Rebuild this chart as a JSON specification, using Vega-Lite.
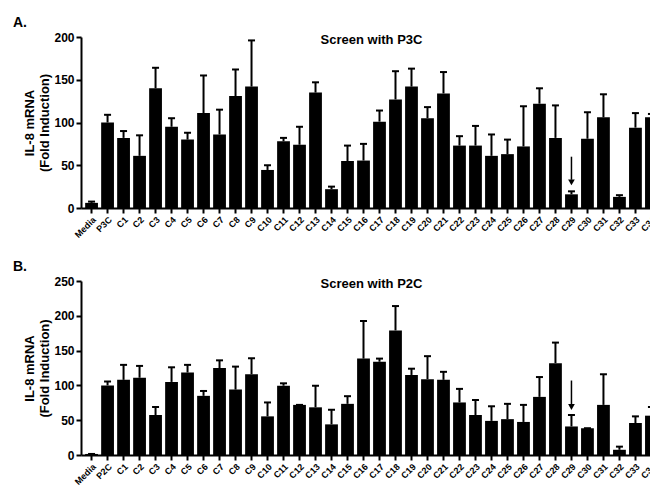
{
  "$schema": "https://vega.github.io/schema/vega-lite/v6.json",
  "padding": {"left": 12, "top": 16, "right": 0, "bottom": 0},
  "background": "white",
  "spacing": 20,
  "config": {
    "font": "Liberation Sans",
    "view": {"stroke": null},
    "axis": {"domainColor": "black", "domainWidth": 2, "tickColor": "black", "tickWidth": 2, "tickSize": 5, "labelColor": "black", "labelFontWeight": "bold", "titleColor": "black", "titleFontWeight": "bold", "grid": false, "labelOverlap": false},
    "axisY": {"titleFontSize": 13, "titleLineHeight": 15, "titlePadding": 2, "labelFontSize": 12, "labelPadding": 2},
    "axisX": {"labelAngle": -45, "labelFontSize": 9, "labelPadding": 2},
    "title": {"color": "black", "fontWeight": "bold"}
  },
  "datasets": {
    "p3c": [
      {"cat": "Media", "value": 6, "err": 7.5},
      {"cat": "P3C", "value": 100, "err": 109},
      {"cat": "C1", "value": 82, "err": 90},
      {"cat": "C2", "value": 61, "err": 85},
      {"cat": "C3", "value": 140, "err": 164},
      {"cat": "C4", "value": 95, "err": 105},
      {"cat": "C5", "value": 80, "err": 88},
      {"cat": "C6", "value": 111, "err": 155},
      {"cat": "C7", "value": 86, "err": 115},
      {"cat": "C8", "value": 131, "err": 162},
      {"cat": "C9", "value": 142, "err": 196},
      {"cat": "C10", "value": 44.5, "err": 50},
      {"cat": "C11", "value": 78, "err": 82},
      {"cat": "C12", "value": 74, "err": 95},
      {"cat": "C13", "value": 135, "err": 147},
      {"cat": "C14", "value": 22, "err": 25},
      {"cat": "C15", "value": 55, "err": 73},
      {"cat": "C16", "value": 55.5, "err": 75},
      {"cat": "C17", "value": 101, "err": 114},
      {"cat": "C18", "value": 127, "err": 160},
      {"cat": "C19", "value": 142, "err": 163},
      {"cat": "C20", "value": 105, "err": 118},
      {"cat": "C21", "value": 134, "err": 159},
      {"cat": "C22", "value": 73, "err": 84},
      {"cat": "C23", "value": 73, "err": 96},
      {"cat": "C24", "value": 61, "err": 86},
      {"cat": "C25", "value": 63, "err": 80},
      {"cat": "C26", "value": 72, "err": 119},
      {"cat": "C27", "value": 122, "err": 140},
      {"cat": "C28", "value": 82, "err": 120},
      {"cat": "C29", "value": 16, "err": 19.5},
      {"cat": "C30", "value": 81, "err": 112},
      {"cat": "C31", "value": 106, "err": 133},
      {"cat": "C32", "value": 13, "err": 15},
      {"cat": "C33", "value": 94, "err": 111},
      {"cat": "C34", "value": 106, "err": 110}
    ],
    "p2c": [
      {"cat": "Media", "value": 1.5, "err": 1.5},
      {"cat": "P2C", "value": 100, "err": 105.6},
      {"cat": "C1", "value": 108, "err": 129.5},
      {"cat": "C2", "value": 111, "err": 128},
      {"cat": "C3", "value": 57.5, "err": 69},
      {"cat": "C4", "value": 105, "err": 126},
      {"cat": "C5", "value": 118.5, "err": 129.5},
      {"cat": "C6", "value": 85, "err": 92},
      {"cat": "C7", "value": 125, "err": 136},
      {"cat": "C8", "value": 94, "err": 127},
      {"cat": "C9", "value": 116, "err": 139},
      {"cat": "C10", "value": 55.5, "err": 75.5},
      {"cat": "C11", "value": 99.5, "err": 103},
      {"cat": "C12", "value": 72, "err": 72},
      {"cat": "C13", "value": 68.5, "err": 99.5},
      {"cat": "C14", "value": 44, "err": 65},
      {"cat": "C15", "value": 73.5, "err": 84.5},
      {"cat": "C16", "value": 138.5, "err": 192.5},
      {"cat": "C17", "value": 134, "err": 138.5},
      {"cat": "C18", "value": 179, "err": 214},
      {"cat": "C19", "value": 115, "err": 124},
      {"cat": "C20", "value": 109, "err": 142},
      {"cat": "C21", "value": 108, "err": 119.5},
      {"cat": "C22", "value": 75.5, "err": 95},
      {"cat": "C23", "value": 57.5, "err": 79},
      {"cat": "C24", "value": 49, "err": 70},
      {"cat": "C25", "value": 51.5, "err": 73.5},
      {"cat": "C26", "value": 47.5, "err": 72},
      {"cat": "C27", "value": 83.5, "err": 112},
      {"cat": "C28", "value": 132, "err": 161.5},
      {"cat": "C29", "value": 41, "err": 57.5},
      {"cat": "C30", "value": 38.5, "err": 38.5},
      {"cat": "C31", "value": 72, "err": 116},
      {"cat": "C32", "value": 7.5, "err": 12},
      {"cat": "C33", "value": 46, "err": 55.5},
      {"cat": "C34", "value": 56.5, "err": 69}
    ],
    "arrowA": [{"cat": "C29", "top": 60, "tip": 33, "head": 30}],
    "arrowB": [{"cat": "C29", "top": 107, "tip": 72, "head": 69}]
  },
  "vconcat": [
    {
      "title": {"text": "A.", "anchor": "start", "fontSize": 14, "dx": -11, "offset": 1},
      "vconcat": [
        {
          "width": 581,
          "height": 171,
          "title": {"text": "Screen with P3C", "fontSize": 13, "frame": "group", "offset": -16},
          "data": {"name": "p3c"},
          "encoding": {
            "x": {"field": "cat", "type": "nominal", "sort": null, "scale": {"paddingInner": 0.2, "paddingOuter": 0.26}, "axis": {"title": null}}
          },
          "layer": [
            {"mark": {"type": "bar", "color": "black"}, "encoding": {"y": {"field": "value", "type": "quantitative", "scale": {"domain": [0, 200], "nice": false}, "axis": {"values": [0, 50, 100, 150, 200], "title": ["IL-8 mRNA", "(Fold Induction)"]}}}},
            {"mark": {"type": "rule", "color": "black", "strokeWidth": 2}, "encoding": {"y": {"field": "value", "type": "quantitative", "axis": {"values": [0, 50, 100, 150, 200], "title": ["IL-8 mRNA", "(Fold Induction)"]}}, "y2": {"field": "err"}}},
            {"mark": {"type": "tick", "color": "black", "thickness": 2, "size": 7, "opacity": 1}, "encoding": {"y": {"field": "err", "type": "quantitative", "axis": {"values": [0, 50, 100, 150, 200], "title": ["IL-8 mRNA", "(Fold Induction)"]}}}},
            {"data": {"name": "arrowA"}, "mark": {"type": "rule", "color": "black", "strokeWidth": 1.5}, "encoding": {"y": {"field": "top", "type": "quantitative", "axis": {"values": [0, 50, 100, 150, 200], "title": ["IL-8 mRNA", "(Fold Induction)"]}}, "y2": {"field": "tip"}}},
            {"data": {"name": "arrowA"}, "mark": {"type": "point", "shape": "triangle-down", "filled": true, "color": "black", "size": 45, "opacity": 1}, "encoding": {"y": {"field": "head", "type": "quantitative", "axis": {"values": [0, 50, 100, 150, 200], "title": ["IL-8 mRNA", "(Fold Induction)"]}}}}
          ]
        }
      ]
    },
    {
      "title": {"text": "B.", "anchor": "start", "fontSize": 14, "dx": -11, "offset": 1},
      "vconcat": [
        {
          "width": 581,
          "height": 174,
          "title": {"text": "Screen with P2C", "fontSize": 13, "frame": "group", "offset": -16},
          "data": {"name": "p2c"},
          "encoding": {
            "x": {"field": "cat", "type": "nominal", "sort": null, "scale": {"paddingInner": 0.2, "paddingOuter": 0.26}, "axis": {"title": null}}
          },
          "layer": [
            {"mark": {"type": "bar", "color": "black"}, "encoding": {"y": {"field": "value", "type": "quantitative", "scale": {"domain": [0, 250], "nice": false}, "axis": {"values": [0, 50, 100, 150, 200, 250], "title": ["IL-8 mRNA", "(Fold Induction)"]}}}},
            {"mark": {"type": "rule", "color": "black", "strokeWidth": 2}, "encoding": {"y": {"field": "value", "type": "quantitative", "axis": {"values": [0, 50, 100, 150, 200, 250], "title": ["IL-8 mRNA", "(Fold Induction)"]}}, "y2": {"field": "err"}}},
            {"mark": {"type": "tick", "color": "black", "thickness": 2, "size": 7, "opacity": 1}, "encoding": {"y": {"field": "err", "type": "quantitative", "axis": {"values": [0, 50, 100, 150, 200, 250], "title": ["IL-8 mRNA", "(Fold Induction)"]}}}},
            {"data": {"name": "arrowB"}, "mark": {"type": "rule", "color": "black", "strokeWidth": 1.5}, "encoding": {"y": {"field": "top", "type": "quantitative", "axis": {"values": [0, 50, 100, 150, 200, 250], "title": ["IL-8 mRNA", "(Fold Induction)"]}}, "y2": {"field": "tip"}}},
            {"data": {"name": "arrowB"}, "mark": {"type": "point", "shape": "triangle-down", "filled": true, "color": "black", "size": 45, "opacity": 1}, "encoding": {"y": {"field": "head", "type": "quantitative", "axis": {"values": [0, 50, 100, 150, 200, 250], "title": ["IL-8 mRNA", "(Fold Induction)"]}}}}
          ]
        }
      ]
    }
  ]
}
